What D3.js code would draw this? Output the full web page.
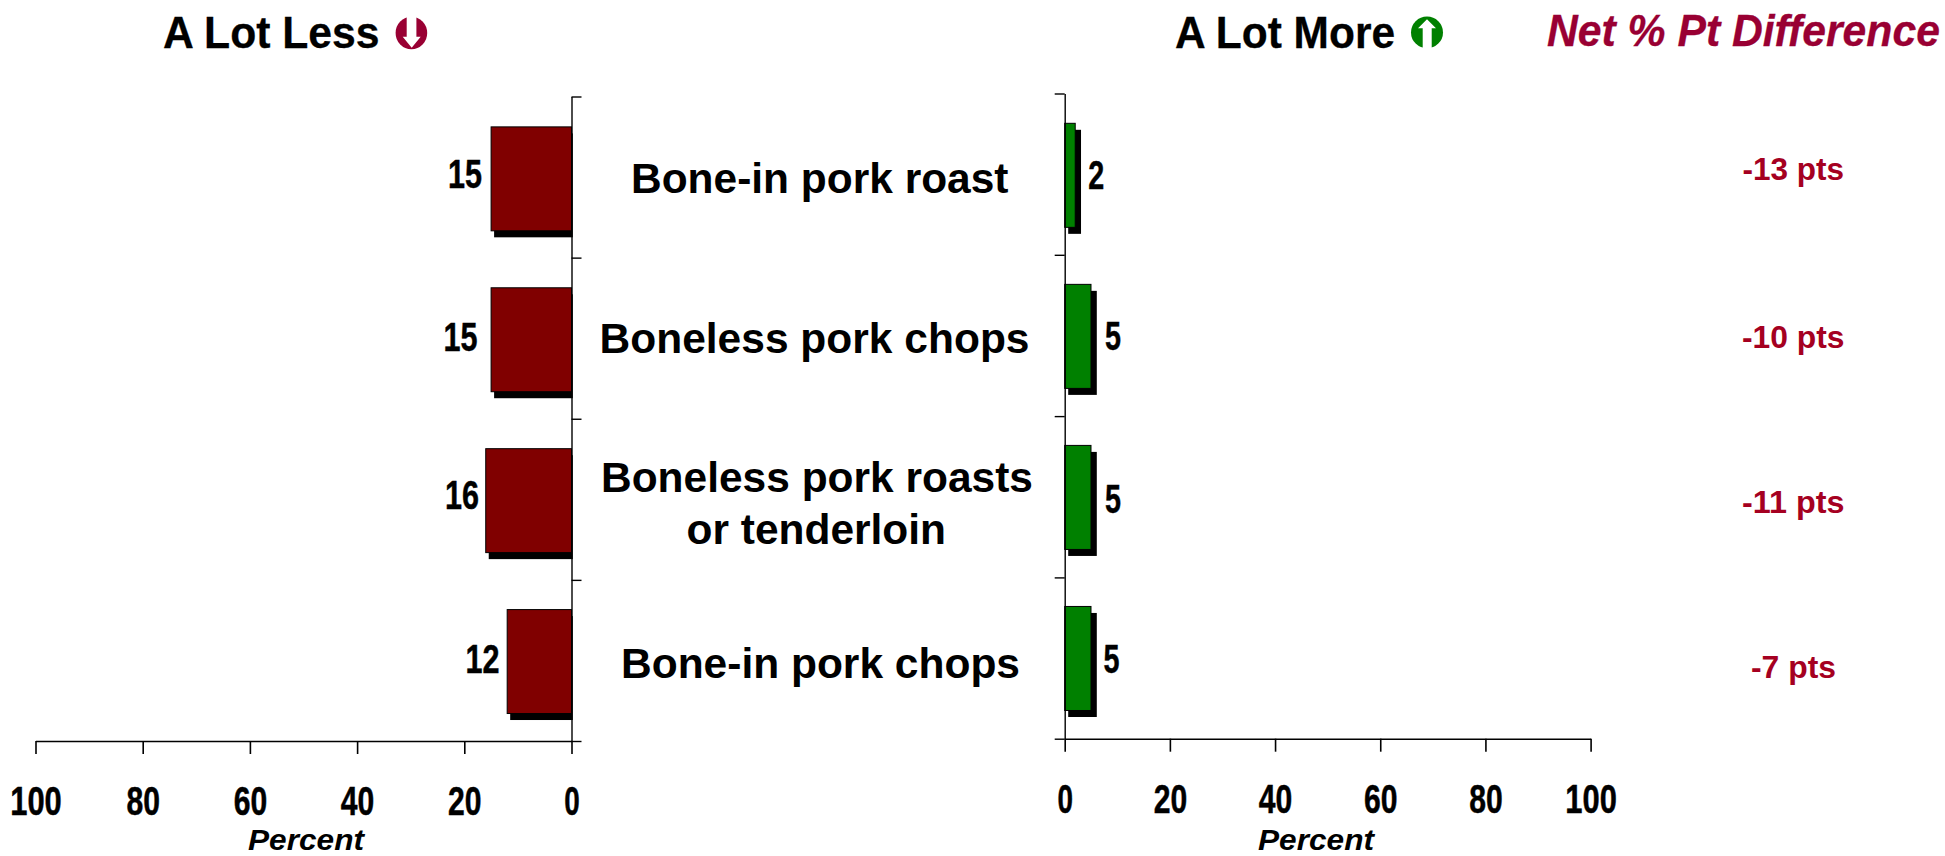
<!DOCTYPE html>
<html><head><meta charset="utf-8">
<style>html,body{margin:0;padding:0;background:#fff}svg{display:block}
text{font-family:"Liberation Sans",Arial,sans-serif;font-weight:700}</style>
<script src="https://cdn.jsdelivr.net/npm/d3@7/dist/d3.min.js"></script>
</head><body><svg id="c" width="1945" height="856"></svg>
<script>
// ---- data ----
const categories = ["Bone-in pork roast","Boneless pork chops","Boneless pork roasts or tenderloin","Bone-in pork chops"];
const categoryLines = [["Bone-in pork roast"],["Boneless pork chops"],["Boneless pork roasts","or tenderloin"],["Bone-in pork chops"]];
const lessValues = [15,15,16,12];
const moreValues = [2,5,5,5];
const netLabels = ["-13 pts","-10 pts","-11 pts","-7 pts"];
const axisTicks = [0,20,40,60,80,100];
const titleLess = "A Lot Less", titleMore = "A Lot More", titleNet = "Net % Pt Difference", axisTitle = "Percent";

// ---- layout ----
const RED="#800000", GREEN="#008000", CRIMSON="#990033", NETRED="#A50021";
const svg=d3.select("#c");
function label(t,x,y,w,fs,opt={}){
  const s=svg.append("text").text(t).attr("x",x).attr("y",y).attr("font-size",fs)
    .attr("textLength",w).attr("lengthAdjust","spacingAndGlyphs")
    .attr("fill",opt.fill||"#000").attr("font-style",opt.italic?"italic":"normal");
  if(opt.heavy) s.attr("stroke",opt.fill||"#000").attr("stroke-width",opt.heavy);
  return s;
}
const xLess=d3.scaleLinear().domain([0,100]).range([571.5,35.5]);
const xMore=d3.scaleLinear().domain([0,100]).range([1064.7,1590.6]);
const yLess=d3.scaleBand().domain(categories).range([98.4,742]).paddingInner(0.354).paddingOuter(0.177);
const yMore=d3.scaleBand().domain(categories).range([94.8,739]).paddingInner(0.354).paddingOuter(0.177);
const frameLess=d3.scaleLinear().domain([0,4]).range([96.5,741]);
const frameMore=d3.scaleLinear().domain([0,4]).range([93.5,738.7]);

// shadows and bars
const shLess={dx:3,dy:6.5}, shMore={dx:3.5,dy:6.5};
svg.append("g").selectAll("rect").data(categories).join("rect")
  .attr("x",(d,i)=>xLess(lessValues[i])+shLess.dx).attr("y",d=>yLess(d)+shLess.dy)
  .attr("width",(d,i)=>xLess(0)-xLess(lessValues[i])-1.7).attr("height",yLess.bandwidth()).attr("fill","#000");
svg.append("g").selectAll("rect").data(categories).join("rect")
  .attr("x",(d,i)=>xLess(lessValues[i])).attr("y",d=>yLess(d))
  .attr("width",(d,i)=>xLess(0)-xLess(lessValues[i])).attr("height",yLess.bandwidth())
  .attr("fill",RED).attr("stroke","#000").attr("stroke-width",1);
svg.append("g").selectAll("rect").data(categories).join("rect")
  .attr("x",xMore(0)+shMore.dx).attr("y",d=>yMore(d)+shMore.dy)
  .attr("width",(d,i)=>xMore(moreValues[i])-xMore(0)+2.3).attr("height",yMore.bandwidth()).attr("fill","#000");
svg.append("g").selectAll("rect").data(categories).join("rect")
  .attr("x",xMore(0)).attr("y",d=>yMore(d))
  .attr("width",(d,i)=>xMore(moreValues[i])-xMore(0)).attr("height",yMore.bandwidth())
  .attr("fill",GREEN).attr("stroke","#000").attr("stroke-width",1);

// axes
function styleAxis(g,w){g.selectAll("path,line").attr("stroke","#000").attr("stroke-width",w);}
function tickText(g,base,widths){
  g.selectAll("text").attr("y",base).attr("dy",0).attr("font-size",41.5).attr("fill","#000")
   .attr("font-family",null).attr("stroke","#000").attr("stroke-width",0.5)
   .attr("textLength",d=>widths[String(d).length]).attr("lengthAdjust","spacingAndGlyphs");
}
const tickW={1:15.5,2:33.5,3:51.5};
svg.append("g").attr("transform",`translate(0,741)`)
  .call(d3.axisBottom(xLess).tickValues(axisTicks).tickSize(13).tickSizeOuter(0))
  .call(g=>styleAxis(g,1.6)).call(g=>tickText(g,74,tickW));
svg.append("g").attr("transform",`translate(0,738.7)`)
  .call(d3.axisBottom(xMore).tickValues(axisTicks).tickSize(13).tickSizeOuter(0))
  .call(g=>styleAxis(g,1.6)).call(g=>tickText(g,74.3,tickW));
svg.append("g").attr("transform",`translate(${xLess(0)},0)`)
  .call(d3.axisRight(frameLess).ticks(4).tickSize(10).tickSizeOuter(0).tickFormat(""))
  .call(g=>styleAxis(g,1.4));
svg.append("g").attr("transform",`translate(${xMore(0)},0)`)
  .call(d3.axisLeft(frameMore).ticks(4).tickSize(10).tickSizeOuter(0).tickFormat(""))
  .call(g=>styleAxis(g,1.4));

// value labels
const lessGap=[9,13.5,6.7,7.6], lessBase=[61.3,63.5,60.5,63.4];
const moreGap=[13,14,14,12.6], moreBase=[65.7,66,68,66.5];
const valW={1:16,2:34};
categories.forEach((c,i)=>{
  const w=valW[String(lessValues[i]).length];
  label(lessValues[i],xLess(lessValues[i])-lessGap[i]-w,yLess(c)+lessBase[i],w,41.5,{heavy:0.5});
  label(moreValues[i],xMore(moreValues[i])+moreGap[i],yMore(c)+moreBase[i],valW[String(moreValues[i]).length],41.5,{heavy:0.5});
});

// centre labels
const centreX=[[631],[599.5],[601,686.5],[621]], centreW=[[377.5],[430],[432,259.5],[399]], centreY=[[192.7],[352.7],[492.3,544],[677.7]];
categoryLines.forEach((ls,i)=>ls.forEach((t,j)=>label(t,centreX[i][j],centreY[i][j],centreW[i][j],42.5)));

// net labels
const netX=[1742.5,1742,1742,1751], netW=[101.5,102.5,102.5,85], netY=[180,347.7,513.3,678];
netLabels.forEach((t,i)=>label(t,netX[i],netY[i],netW[i],32,{fill:NETRED}));

// headers
label(titleLess,163,48,216.5,45,{heavy:0.3});
label(titleMore,1175,48,220,45,{heavy:0.3});
const net=svg.append("text").text(titleNet).attr("font-size",45).attr("font-style","italic")
  .attr("fill",CRIMSON).attr("stroke",CRIMSON).attr("stroke-width",0.3);
net.attr("transform",`translate(1547,46) scale(${393/net.node().getComputedTextLength()},1)`);
label(axisTitle,248,849.7,116,29.5,{italic:true});
label(axisTitle,1258,849.7,116,29.5,{italic:true});

// arrow badges
const down=svg.append("g");
down.append("ellipse").attr("cx",411.4).attr("cy",33).attr("rx",15.8).attr("ry",16.3).attr("fill",CRIMSON);
down.append("path").attr("fill","#fff").attr("d","M406.7,14V36.7H402.7L411.7,47.7L420.7,36.7H416.4V14Z");
const up=svg.append("g");
up.append("ellipse").attr("cx",1427).attr("cy",32.4).attr("rx",16).attr("ry",15.8).attr("fill",GREEN);
up.append("path").attr("fill","#fff").attr("d","M1431.7,50V28.3H1436L1427,19.3L1418,28.3H1422.7V50Z");
</script></body></html>
